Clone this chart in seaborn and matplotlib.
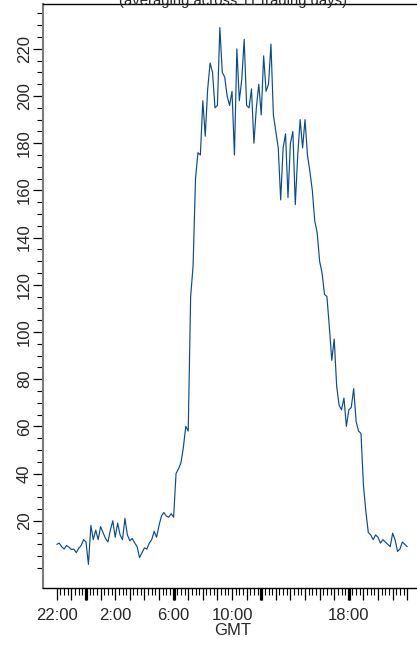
import numpy as np
import matplotlib
matplotlib.use("Agg")
import matplotlib.pyplot as plt
from matplotlib.ticker import FixedLocator, FixedFormatter
import seaborn as sns

# 10-minute buckets from 22:00 (previous day) to 22:00 GMT, hours relative to midnight
hours = -2 + np.arange(145) / 6.0

activity = [
    10, 10.5, 9, 8, 9.5, 8.8, 7.8, 8, 6.5, 8.3, 9.5, 12, 11,
    1.5,
    18, 12, 16, 12, 17.5, 15, 12.5, 11, 16, 20, 13,
    19, 14, 12, 21, 14, 11.5, 12.5, 10.6, 9, 4.4, 6.4,
    8.5, 8, 10.5, 12, 15.5, 13, 18, 22, 23.5, 22, 21.5, 23, 21.5,
    40, 42, 44.5, 51, 60, 58, 115, 128, 165, 176, 175,
    198, 183, 203, 214, 210, 195, 196, 229, 210, 208,
    200, 196, 202, 175, 220, 198, 207, 224, 196, 195,
    203, 180, 195, 205, 192, 217, 202, 205, 222, 192,
    185, 178, 156, 178, 184, 157, 180, 185, 154, 175,
    190, 178, 190, 175, 168, 160, 147, 142, 130, 125,
    116, 115, 102, 88, 97, 77, 69, 67, 72, 60,
    67, 68, 76, 62, 58, 57, 35, 24, 15, 14,
    12, 14, 13, 10.5, 12, 11, 10, 9, 14.7, 12,
    7, 8, 11, 10, 9,
]

hour_ticks = list(range(-2, 23))
hour_labels = {-2: "22:00", 2: "2:00", 6: "6:00", 10: "10:00", 18: "18:00"}
six_hour_ticks = [0, 6, 12, 18]
y_labels = list(range(20, 221, 20))

sns.set_style("ticks")
plt.rcParams["font.family"] = ["Liberation Sans", "DejaVu Sans"]

fig = plt.figure(figsize=(4.17, 6.45), dpi=100)
ax = fig.add_axes([43 / 417, 57 / 645, 380 / 417, 584 / 645])

sns.lineplot(x=hours, y=activity, ax=ax, color="#0a4b8f", linewidth=0.85)

ax.set_xlim(-2.945, 23.08)
ax.set_ylim(-8.5, 239)

# x axis: hourly ticks, 15-minute minor ticks, labels only at selected hours
ax.xaxis.set_major_locator(FixedLocator(hour_ticks))
ax.xaxis.set_major_formatter(FixedFormatter([hour_labels.get(h, "") for h in hour_ticks]))
ax.xaxis.set_minor_locator(FixedLocator(np.arange(-2, 22.01, 0.25)))
ax.tick_params(axis="x", which="major", length=8.6, width=0.9, pad=5.5,
               labelsize=12, color="black", direction="out")
ax.tick_params(axis="x", which="minor", length=4.8, width=0.8,
               color="black", direction="out")

# thick 6-hour ticks
sec = ax.secondary_xaxis("bottom")
sec.set_xticks(six_hour_ticks)
sec.set_xticklabels([])
sec.tick_params(length=8.6, width=2.3, color="black", direction="out")
sec.spines["bottom"].set_visible(False)

# y axis
ax.yaxis.set_major_locator(FixedLocator(y_labels))
ax.yaxis.set_minor_locator(FixedLocator(np.arange(0, 236, 5)))
ax.tick_params(axis="y", which="major", length=7.5, width=0.9, pad=0.5,
               labelsize=12, color="black", direction="out")
ax.tick_params(axis="y", which="minor", length=4, width=0.8,
               color="black", direction="out")
for lab in ax.get_yticklabels():
    lab.set_rotation(90)
    lab.set_va("center")

ax.set_xlabel("GMT", fontsize=12, labelpad=0)
ax.set_ylabel("")

for side in ["top", "bottom"]:
    ax.spines[side].set_color("black")
    ax.spines[side].set_linewidth(1.0)
ax.spines["left"].set_color("#7a7a7a")
ax.spines["left"].set_linewidth(1.5)
ax.spines["right"].set_visible(False)
ax.grid(False)

fig.text(233 / 417, 1 - 5.5 / 645, "(averaging across 11 trading days)",
         ha="center", va="baseline", fontsize=10.7)

fig.savefig("out.png", dpi=100)
